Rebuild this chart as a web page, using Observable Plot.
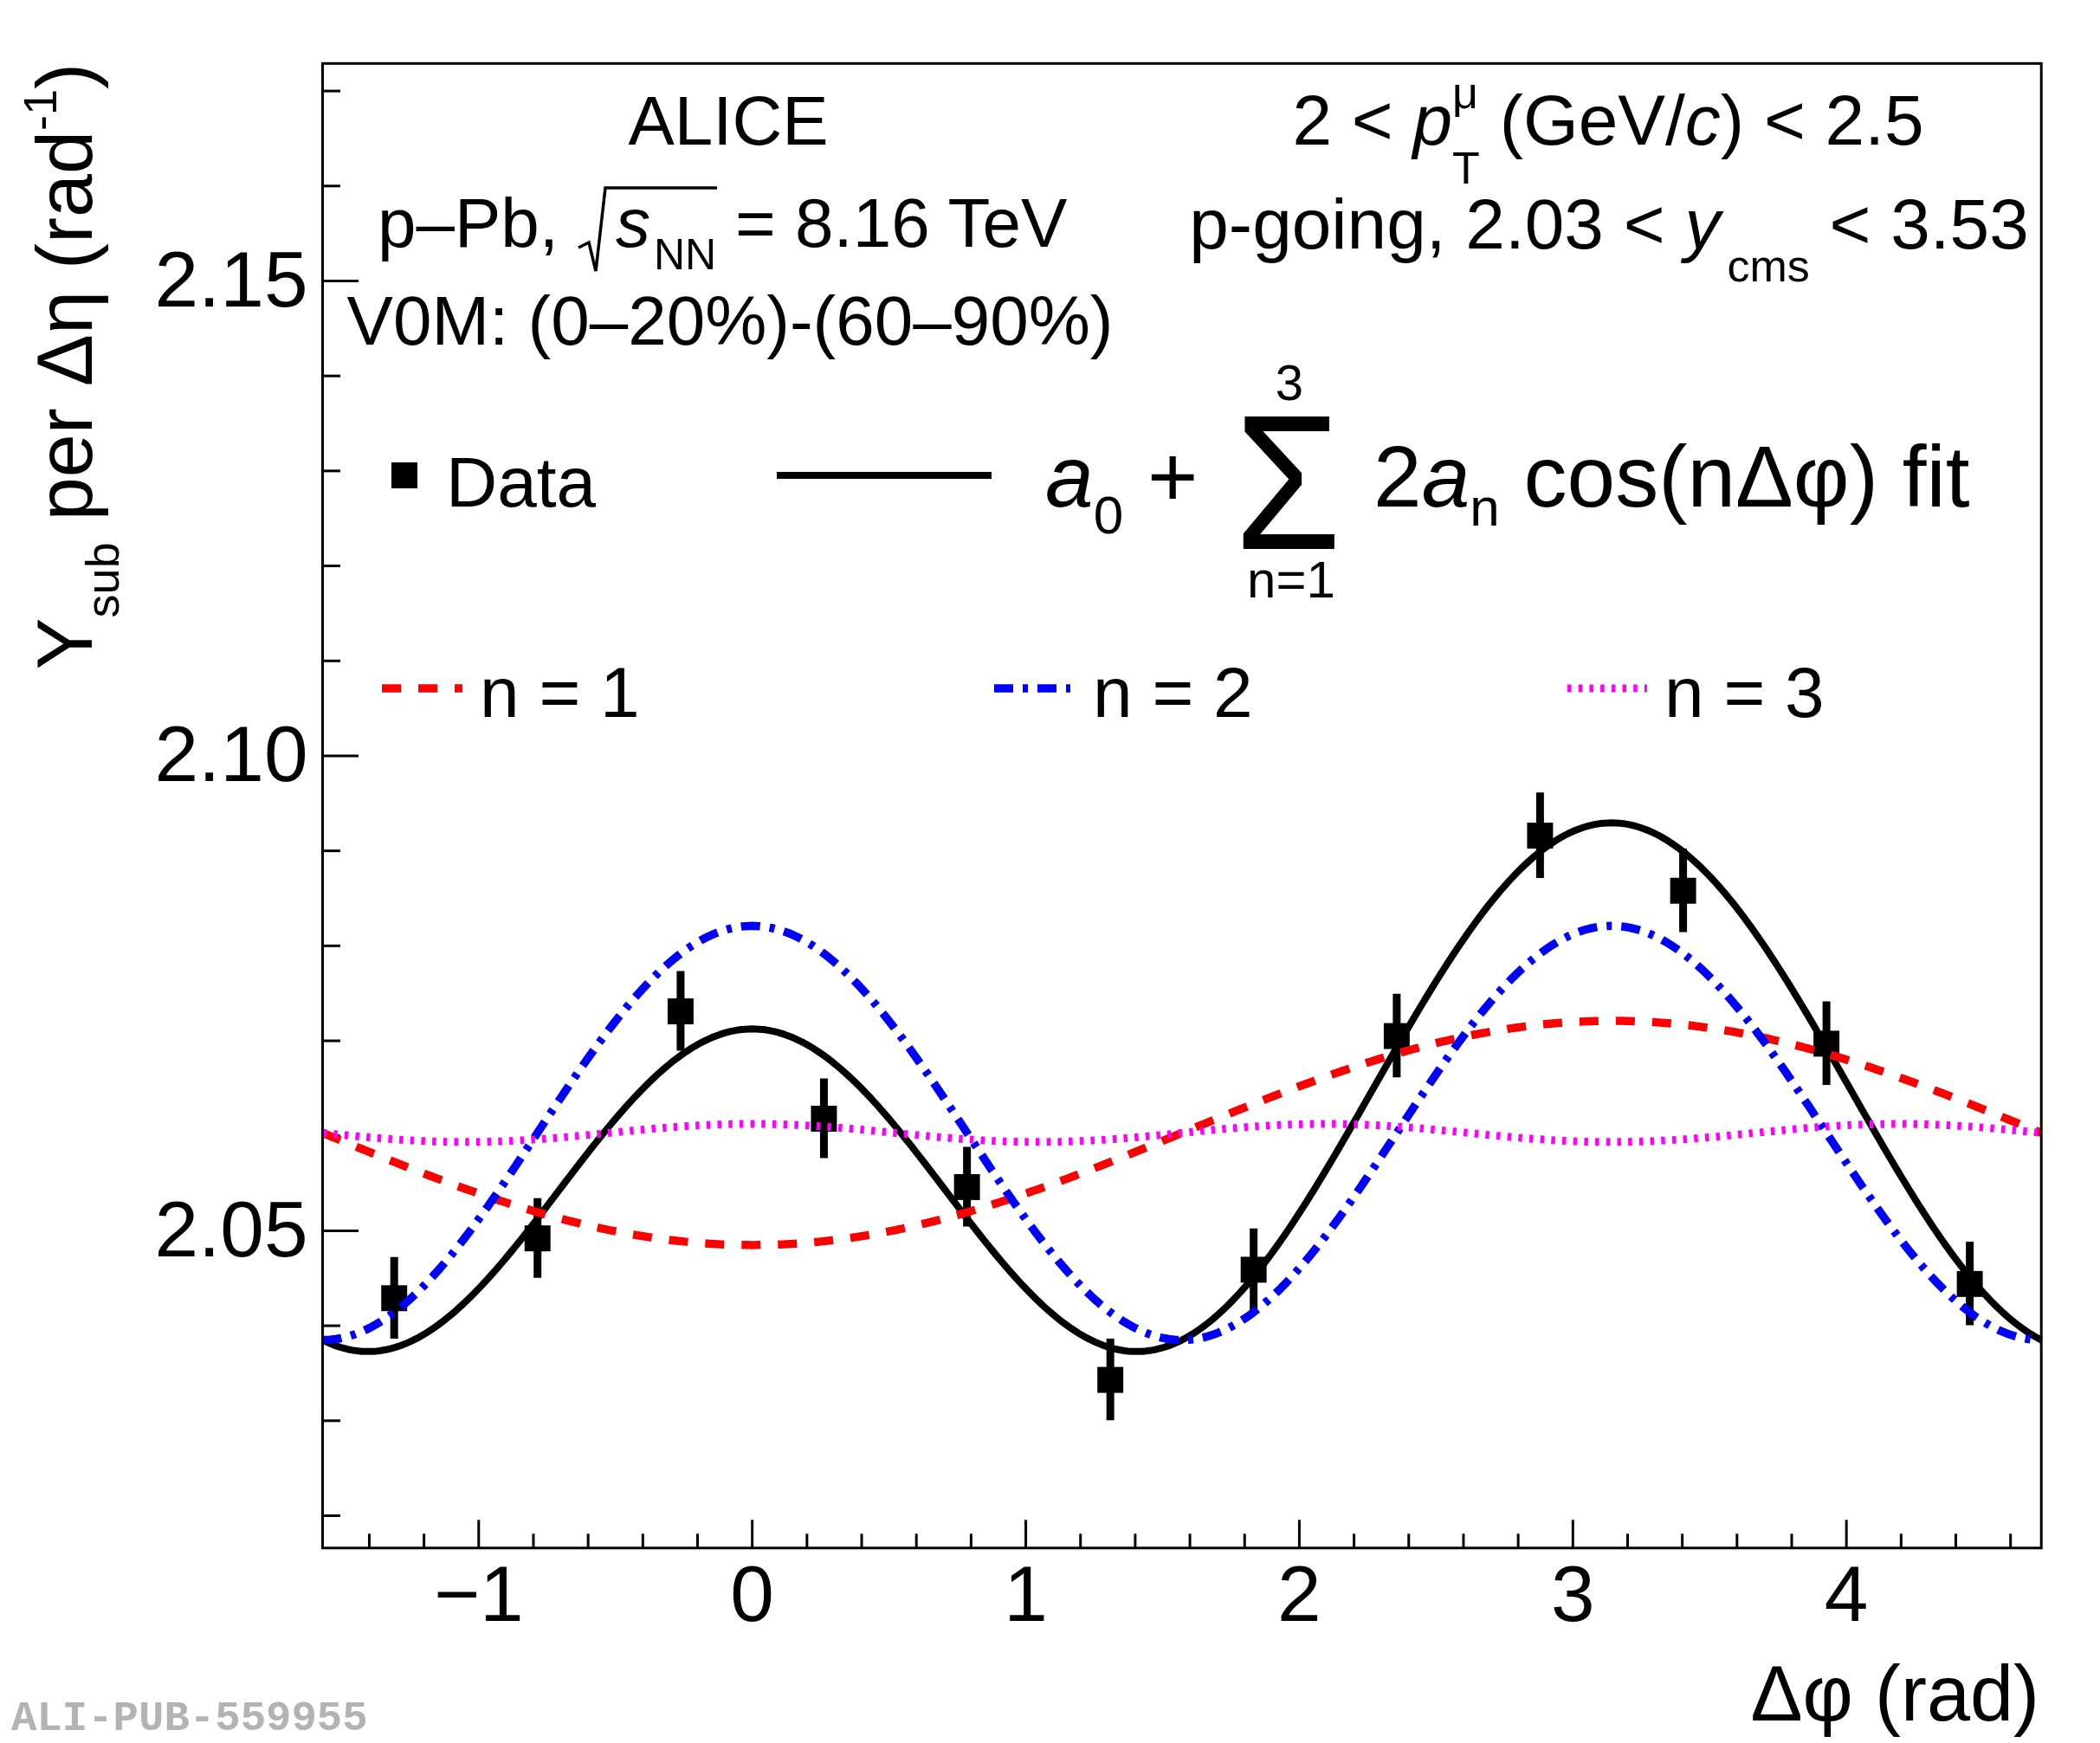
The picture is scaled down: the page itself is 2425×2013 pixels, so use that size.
<!DOCTYPE html>
<html>
<head>
<meta charset="utf-8">
<script src="https://cdn.jsdelivr.net/npm/d3@7"></script>
<script src="https://cdn.jsdelivr.net/npm/@observablehq/plot@0.6"></script>
<style>
  html, body { margin: 0; padding: 0; background: #fff; overflow: hidden; }
  #chart svg { display: block; }
</style>
</head>
<body>
<div id="chart"></div>
<script>
// ---- data ----
const dphiCenters = [-1.309, -0.785, -0.262, 0.262, 0.785, 1.309, 1.833, 2.356, 2.880, 3.403, 3.927, 4.451];
const ySub        = [2.0429, 2.0492, 2.0731, 2.0618, 2.0546, 2.0343, 2.0459, 2.0705, 2.0916, 2.0858, 2.0697, 2.0444];
const ySubErr     = [0.0043, 0.0042, 0.0042, 0.0042, 0.0042, 0.0043, 0.0043, 0.0044, 0.0045, 0.0044, 0.0044, 0.0044];

// Fourier fit coefficients  a0 + sum 2 a_n cos(n dphi)
const fitA0 = 2.0603;
const fitAn = [-0.0059, 0.0109, 0.000475]; // a1, a2, a3

const xTickMajor = [-1, 0, 1, 2, 3, 4];
const xTickLabels = ["\u22121", "0", "1", "2", "3", "4"];
const xTickMinor = d3.range(-14, 47, 2).map(d => d / 10).filter(d => !Number.isInteger(d));
const yTickMajor = [2.05, 2.10, 2.15];
const yTickLabels = ["2.05", "2.10", "2.15"];
const yTickMinor = [2.02, 2.03, 2.04, 2.06, 2.07, 2.08, 2.09, 2.11, 2.12, 2.13, 2.14, 2.16, 2.17];

const xDomain = [-Math.PI / 2, 3 * Math.PI / 2];
const yDomain = [2.0166, 2.1729];

// ---- tables built from the arrays above ----
const points = dphiCenters.map((x, i) => ({x, y: ySub[i], e: ySubErr[i]}));
const phiGrid = d3.range(0, 481).map(i => xDomain[0] + i * (xDomain[1] - xDomain[0]) / 480);
const fitFull = phiGrid.map(x => ({x, y: fitA0 + fitAn.reduce((s, a, k) => s + 2 * a * Math.cos((k + 1) * x), 0)}));
const fitN = [1, 2, 3].map(n => phiGrid.map(x => ({x, y: fitA0 + 2 * fitAn[n - 1] * Math.cos(n * x)})));

const W = 2425, H = 2013;
const mL = 372, mR = 68.3, mT = 72.8, mB = 225.7;
const fw = W - mL - mR, fh = H - mT - mB;
const FONT = "'Liberation Sans', Arial, Helvetica, sans-serif";
const colN = ["#ff0000", "#0000ff", "#ff00ff"];
const dashN = ["22,20", "22,11,6,11", "4.5,8.2"];
const widthN = [9.5, 9.5, 9];

const plot = Plot.plot({
  width: W, height: H,
  marginLeft: mL, marginRight: mR, marginTop: mT, marginBottom: mB,
  style: {fontFamily: FONT, background: "#fff", color: "#000"},
  x: {domain: xDomain, axis: null},
  y: {domain: yDomain, axis: null},
  marks: [
    Plot.tickX(xTickMinor, {x: d => d, insetTop: fh - 16, strokeWidth: 3}),
    Plot.tickX(xTickMajor, {x: d => d, insetTop: fh - 32, strokeWidth: 3}),
    Plot.tickY(yTickMinor, {y: d => d, insetRight: fw - 21, strokeWidth: 3}),
    Plot.tickY(yTickMajor, {y: d => d, insetRight: fw - 42, strokeWidth: 3}),
    Plot.text(xTickMajor, {x: d => d, frameAnchor: "bottom", text: (d, i) => xTickLabels[i], lineAnchor: "top", dy: 20, fontSize: 91, fill: "#000"}),
    Plot.text(yTickMajor, {y: d => d, frameAnchor: "left", text: (d, i) => yTickLabels[i], textAnchor: "end", dx: -17, fontSize: 91, fill: "#000"}),
    Plot.ruleX(points, {x: "x", y1: d => d.y - d.e, y2: d => d.y + d.e, stroke: "#000", strokeWidth: 9, strokeLinecap: "butt"}),
    Plot.dot(points, {x: "x", y: "y", symbol: "square", r: 16.9, fill: "#000", stroke: "none"}),
    Plot.line(fitFull, {x: "x", y: "y", stroke: "#000", strokeWidth: 8, strokeLinecap: "butt"}),
    ...fitN.map((data, i) => Plot.line(data, {x: "x", y: "y", stroke: colN[i], strokeWidth: widthN[i], strokeDasharray: dashN[i], strokeLinecap: "butt", strokeLinejoin: "miter"})),
    Plot.frame({stroke: "#000", strokeWidth: 3})
  ]
});

document.getElementById("chart").appendChild(plot);

// ---- annotations, legend, axis titles ----
const svg = d3.select(plot);
const g = svg.append("g").attr("font-family", FONT).attr("fill", "#000").attr("text-anchor", "start");

function rich(x, y, size, anchor, parts, extra) {
  const t = g.append("text").attr("x", x).attr("y", y).attr("font-size", size).attr("text-anchor", anchor || "start");
  if (extra) t.attr("transform", extra);
  for (const p of parts) {
    const s = t.append("tspan").text(p.t);
    if (p.it) s.attr("font-style", "italic");
    if (p.size) s.attr("font-size", p.size);
    if (p.dx) s.attr("dx", p.dx);
    if (p.dy) s.attr("dy", p.dy);
  }
  return t;
}

// left column
rich(841, 167, 80, "middle", [{t: "ALICE"}]);
rich(436, 285, 80, "start", [{t: "p\u2013Pb,"}]);
g.append("path").attr("d", "M668,286 L680,280 L688,313 L699,217 L828,217")
  .attr("fill", "none").attr("stroke", "#000").attr("stroke-width", 3.5).attr("stroke-linejoin", "miter");
rich(711, 285, 80, "start", [{t: "s", it: true}]);
rich(755, 311, 50, "start", [{t: "NN"}]);
rich(849, 285, 80, "start", [{t: "= 8.16 TeV"}]);
rich(843, 398, 80, "middle", [{t: "V0M: (0\u201320%)-(60\u201390%)"}]);

// right column
rich(1857, 167, 82, "middle", [
  {t: "2 < "}, {t: "p", it: true},
  {t: "\u03bc", size: 52, dy: -42},
  {t: "T", size: 52, dx: -30, dy: 87},
  {t: " (GeV/", dy: -45}, {t: "c", it: true}, {t: ") < 2.5"}
]);
rich(1858, 287, 82, "middle", [
  {t: "p-going, 2.03 < "}, {t: "y", it: true},
  {t: "cms", size: 52, dx: 8, dy: 38},
  {t: " < 3.53", dy: -38}
]);

// legend: data + full fit
g.append("rect").attr("x", 452).attr("y", 534).attr("width", 30).attr("height", 30).attr("fill", "#000");
rich(515, 585, 82, "start", [{t: "Data"}]);
g.append("line").attr("x1", 897).attr("x2", 1145).attr("y1", 549).attr("y2", 549).attr("stroke", "#000").attr("stroke-width", 8);
rich(1207, 585, 100, "start", [{t: "a", it: true}, {t: "0", size: 62, dy: 31}, {t: " +", dy: -31}]);
rich(1487, 634, 222, "middle", [{t: "\u03a3"}]).attr("transform", "translate(1487,0) scale(0.9,1) translate(-1487,0)");
rich(1489, 462, 58, "middle", [{t: "3"}]);
rich(1491, 690, 60, "middle", [{t: "n=1"}]);
rich(1586, 585, 100, "start", [{t: "2"}, {t: "a", it: true}, {t: "n", size: 62, dy: 22}, {t: " cos(n\u0394\u03c6) fit", dy: -22}]);

// legend: harmonics
const legN = [[441, 534, 554], [1148, 1236, 1262], [1810, 1902, 1922]];
legN.forEach(([x1, x2, tx], i) => {
  g.append("line").attr("x1", x1).attr("x2", x2).attr("y1", 795).attr("y2", 795)
    .attr("stroke", colN[i]).attr("stroke-width", widthN[i]).attr("stroke-dasharray", dashN[i]).attr("stroke-linecap", "butt");
  rich(tx, 828, 82, "start", [{t: "n = " + (i + 1)}]);
});

// axis titles
rich(0, 0, 90, "end", [
  {t: "Y"}, {t: "sub", size: 54, dy: 31}, {t: " per \u0394\u03b7 (rad", dy: -31},
  {t: "-1", size: 54, dy: -41}, {t: ")", dy: 41}
], "translate(106,73) rotate(-90)");
rich(2355, 1987, 90, "end", [{t: "\u0394\u03c6 (rad)"}]);

// publication id
g.append("text").attr("x", 13).attr("y", 1998).attr("text-anchor", "start")
  .attr("font-family", "'Liberation Mono', 'DejaVu Sans Mono', monospace")
  .attr("font-weight", "bold").attr("font-size", 49).attr("fill", "#b3b3b3").text("ALI-PUB-559955");
</script>
</body>
</html>
